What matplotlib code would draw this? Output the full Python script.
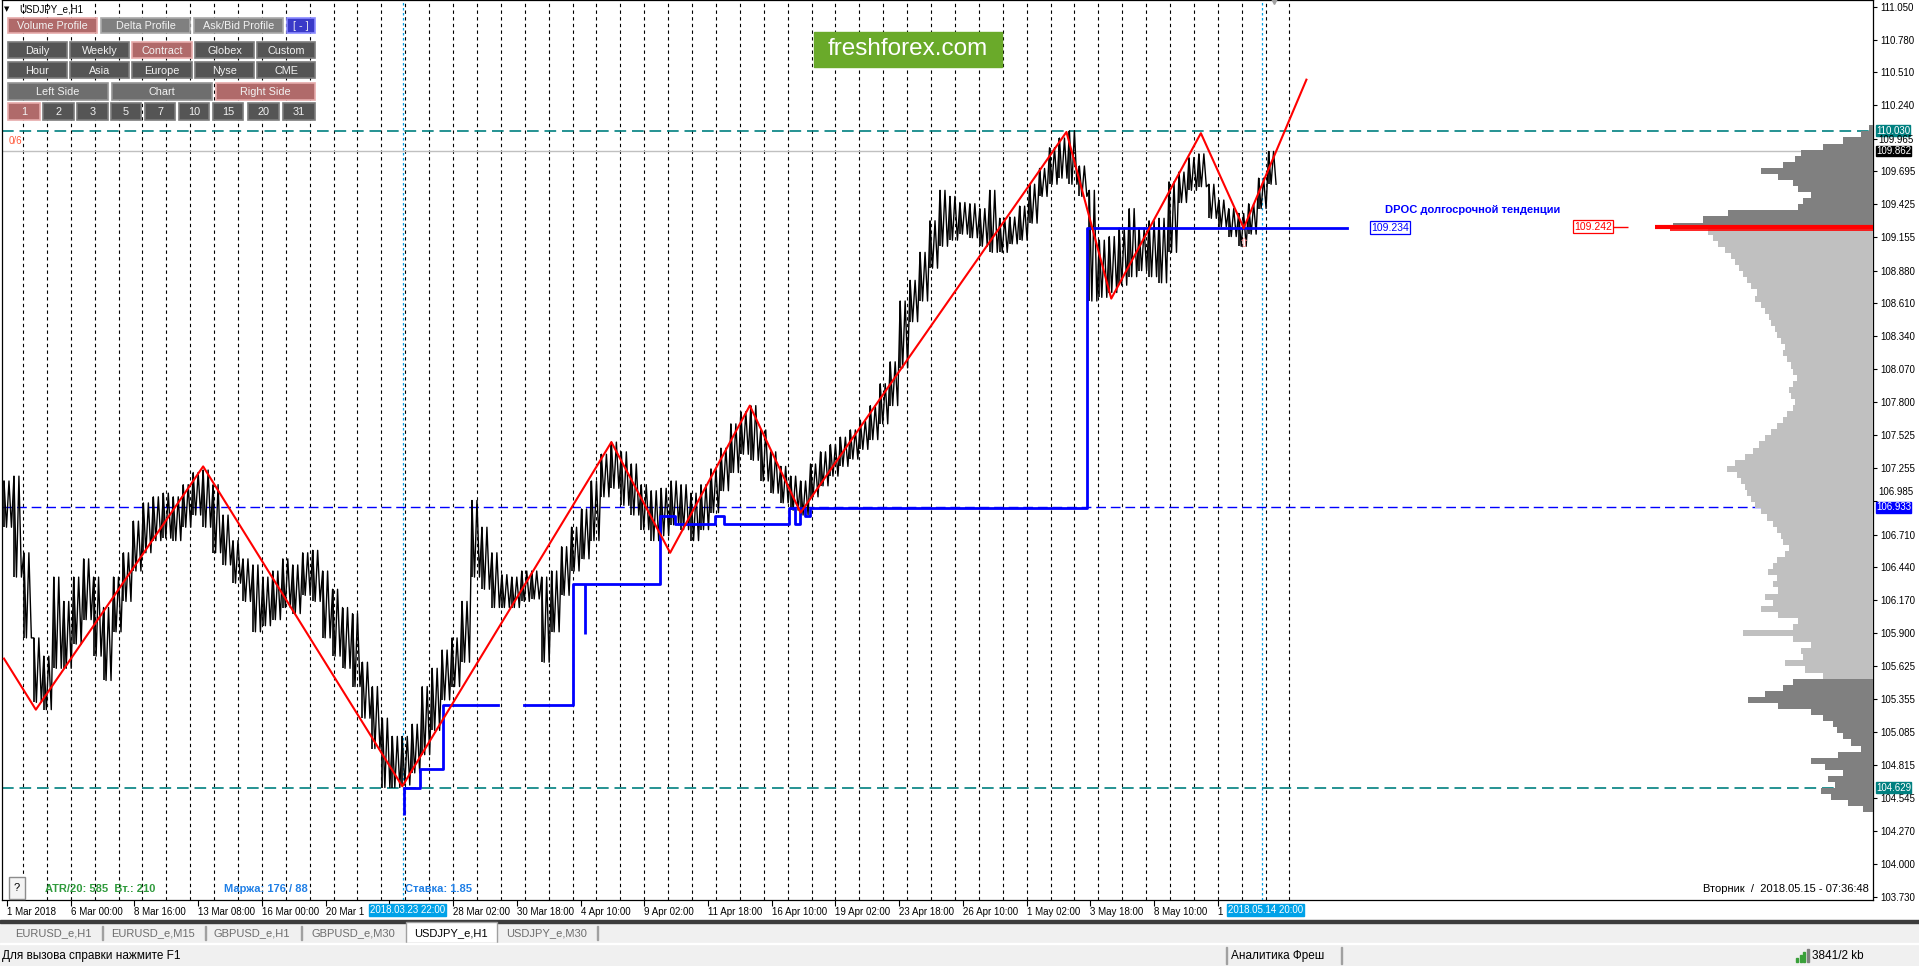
import numpy as np
import matplotlib
matplotlib.use('Agg')
import matplotlib.pyplot as plt
from matplotlib.patches import Rectangle

plt.rcParams['font.family'] = ['Liberation Sans', 'DejaVu Sans']

W, H = 1919, 966

# x axis = hourly bar number counted from 1 Mar 2018 00:00 (weekends skipped)
bar_first, bar_step = 5, 10
price_hi = [
    107.15, 107.19, 106.56, 105.86, 105.71, 106.36, 106.16, 106.36, 106.51, 106.36,
    106.11, 106.36, 106.56, 106.82, 106.97, 107.02, 107.05, 107.02, 107.12, 107.22,
    107.24, 107.12, 106.87, 106.66, 106.51, 106.46, 106.36, 106.41, 106.51, 106.46,
    106.56, 106.58, 106.41, 106.26, 106.11, 106.06, 105.66, 105.46, 105.20, 105.05,
    105.05, 105.15, 105.46, 105.61, 105.76, 105.86, 106.16, 106.99, 106.77, 106.56,
    106.38, 106.36, 106.41, 106.41, 106.36, 106.41, 106.61, 106.77, 106.92, 107.15,
    107.37, 107.47, 107.39, 107.29, 107.12, 107.07, 107.09, 107.15, 107.12, 107.05,
    107.12, 107.25, 107.42, 107.62, 107.72, 107.77, 107.57, 107.39, 107.27, 107.19,
    107.15, 107.29, 107.39, 107.45, 107.51, 107.57, 107.65, 107.77, 107.95, 108.13,
    108.63, 108.80, 109.03, 109.29, 109.54, 109.49, 109.44, 109.43, 109.39, 109.54,
    109.31, 109.32, 109.41, 109.59, 109.72, 109.89, 109.97, 110.03, 109.74, 109.54,
    109.13, 109.16, 109.23, 109.39, 109.23, 109.29, 109.31, 109.61, 109.69, 109.81,
    109.84, 109.59, 109.46, 109.39, 109.35, 109.43, 109.64, 109.86]
price_lo = [
    106.77, 106.36, 105.86, 105.33, 105.27, 105.61, 105.61, 105.81, 106.01, 105.71,
    105.51, 105.91, 106.16, 106.41, 106.56, 106.66, 106.68, 106.66, 106.77, 106.87,
    106.77, 106.56, 106.46, 106.31, 106.16, 105.91, 105.96, 106.01, 106.11, 106.06,
    106.21, 106.16, 105.86, 105.71, 105.61, 105.46, 105.20, 104.95, 104.63, 104.63,
    104.65, 104.75, 104.90, 105.10, 105.35, 105.46, 105.66, 106.36, 106.26, 106.11,
    106.11, 106.11, 106.16, 106.18, 105.66, 105.91, 106.21, 106.41, 106.51, 106.66,
    107.02, 107.09, 106.95, 106.87, 106.75, 106.66, 106.70, 106.79, 106.75, 106.66,
    106.75, 106.89, 107.07, 107.22, 107.37, 107.32, 107.15, 107.05, 106.97, 106.91,
    106.87, 107.02, 107.11, 107.19, 107.27, 107.33, 107.41, 107.49, 107.62, 107.77,
    108.08, 108.46, 108.63, 108.90, 109.08, 109.13, 109.18, 109.15, 109.08, 109.03,
    109.03, 109.10, 109.13, 109.27, 109.49, 109.59, 109.64, 109.59, 109.49, 108.63,
    108.66, 108.70, 108.76, 108.83, 108.88, 108.83, 108.78, 109.03, 109.44, 109.54,
    109.57, 109.31, 109.24, 109.16, 109.08, 109.18, 109.39, 109.59]

# zigzag (red)
zz_bar = [5, 37, 205, 405, 615, 674, 754, 805, 1072, 1117, 1207, 1250, 1313]
zz_price = [105.69, 105.27, 107.27, 104.64, 107.47, 106.56, 107.77, 106.89,
            110.02, 108.65, 110.01, 109.23, 110.45]

# developing POC (blue steps)
poc_bar = [407, 423, 446, 501, 527, 576, 664, 679, 719, 728, 793, 799, 804,
           809, 814, 1093, 1354]
poc_price = [104.63, 104.78, 105.31, np.nan, 105.31, 106.30, 106.86, 106.80,
             106.86, 106.80, 106.93, 106.80, 106.93, 106.86, 106.93, 109.23, 109.23]
spike_bar = [407, 588]
spike_lo = [104.40, 105.89]
spike_hi = [104.63, 106.30]

# volume profile, levels from 104.45 every 0.05
prof_start, prof_step = 104.45, 0.05
prof_vol = [
    10, 25, 42, 52, 38, 45, 30, 48, 62, 35, 12,
    22, 30, 36, 40, 50, 62, 95, 125, 108, 90, 80, 50, 68, 88, 70, 72, 62, 80, 130, 80,
    75, 95, 112, 100, 108, 95, 100, 96, 105, 100, 96, 88, 84, 90, 92, 96, 100, 106, 112, 118,
    122, 126, 128, 132, 136, 146, 138, 128, 120, 114, 108, 102, 96, 90, 86, 80, 78, 82, 84, 80,
    76, 80, 82, 86, 90, 88, 92, 96, 98, 102, 104, 108, 112, 118, 116, 122, 126, 130, 134, 138,
    142, 148, 155, 160, 165, 200, 170, 145, 75, 70, 62, 75, 80, 95, 112, 90, 78, 72, 50, 30,
    12, 4]
va_low, va_high = 105.52, 109.23
poc_main, poc_prev = 109.242, 109.215
poc_main_vol, poc_prev_vol = 218, 203
dpoc_long = 109.234

lvl_high, lvl_low, lvl_bid, lvl_blue = 110.030, 104.629, 109.862, 106.933

y_ticks = [111.050, 110.780, 110.510, 110.240, 109.965, 109.695, 109.425, 109.155,
           108.880, 108.610, 108.340, 108.070, 107.800, 107.525, 107.255, 106.985,
           106.710, 106.440, 106.170, 105.900, 105.625, 105.355, 105.085, 104.815,
           104.545, 104.270, 104.000, 103.730]
# tick labels squeezed next to the coloured price tags: (price, vertical shift px)
y_tight = {109.965: -1, 106.985: 9}
# only the visible part of the labels that sit under the crosshair boxes
time_labels = ['1 Mar 2018', '6 Mar 00:00', '8 Mar 16:00', '13 Mar 08:00', '16 Mar 00:00',
               '20 Mar 1', '', '28 Mar 02:00', '30 Mar 18:00', '4 Apr 10:00',
               '9 Apr 02:00', '11 Apr 18:00', '16 Apr 10:00', '19 Apr 02:00', '23 Apr 18:00',
               '26 Apr 10:00', '1 May 02:00', '3 May 18:00', '8 May 10:00', '1']
cross_bars = [406, 1268]
cross_labels = ['2018.03.23 22:00', '2018.05.14 20:00']

fig = plt.figure(figsize=(W / 100, H / 100), dpi=100)
fig.patch.set_facecolor('white')


def box(x0, y0, x1, y1, fc, ec=None, lw=1.0, z=5):
    r = Rectangle((x0 / W, 1 - y1 / H), (x1 - x0) / W, (y1 - y0) / H,
                  transform=fig.transFigure, fc=fc, ec=ec or fc, lw=lw, zorder=z)
    fig.add_artist(r)


def ftext(x, y, s, **kw):
    kw.setdefault('va', 'center')
    kw.setdefault('zorder', 6)
    fig.text(x / W, 1 - y / H, s, **kw)


ax = fig.add_axes([2 / W, 1 - 900 / H, 1871 / W, 900 / H])
ax.set_xlim(3, 1882)
ax.set_ylim(103.705, 111.105)

# day separators
for d in range(24, 1300, 24):
    ax.axvline(d, color='black', lw=0.8, ls=(0, (3, 3)), zorder=1)
for b in cross_bars:
    ax.axvline(b, color='#00a2e8', lw=0.9, ls=(0, (2, 2)), zorder=1)

ax.axhline(lvl_high, color='#008080', lw=1.2, ls=(0, (7, 3.5)), zorder=1)
ax.axhline(lvl_low, color='#008080', lw=1.2, ls=(0, (7, 3.5)), zorder=1)
ax.axhline(lvl_blue, color='#0000ff', lw=1.0, ls=(0, (7, 3.5)), zorder=1)
ax.axhline(lvl_bid, color='#c0c0c0', lw=1.0, zorder=1)

# price bars: each read high/low range drawn as a dense up-down trace
bars = bar_first + bar_step * np.arange(len(price_hi))
q = bar_step / 4
px = np.column_stack([bars, bars + q, bars + 2 * q, bars + 3 * q]).ravel()
py = np.column_stack([price_hi, price_lo, price_hi, price_lo]).ravel()
ax.plot(px, py, color='black', lw=1.0, zorder=3)
ax.vlines(bars, price_lo, price_hi, color='black', lw=1.2, zorder=3)

ax.plot(poc_bar, poc_price, drawstyle='steps-post', color='#0000ff', lw=2.0, zorder=4)
ax.vlines(spike_bar, spike_lo, spike_hi, color='#0000ff', lw=2.0, zorder=4)
ax.plot(zz_bar, zz_price, color='red', lw=1.5, zorder=5)

ax.text(zz_bar[-2], zz_price[-2] - 0.13, '\u21e7', color='#ff8a8a', fontsize=9,
        ha='center', va='center', family=['DejaVu Sans'], zorder=5)

# DPOC labels
ax.text(1392, 109.375, 'DPOC долгосрочной тенденции', color='#0000ff', fontsize=8,
        fontweight='bold', ha='left', va='center')
ax.text(1397, dpoc_long, f'{dpoc_long:.3f}', color='#0000ff', fontsize=7.5, ha='center',
        va='center', bbox=dict(boxstyle='square,pad=0.12', fc='white', ec='#0000ff', lw=0.9))
ax.text(1601, poc_main, f'{poc_main:.3f}', color='red', fontsize=7.5, ha='center',
        va='center', bbox=dict(boxstyle='square,pad=0.12', fc='white', ec='red', lw=0.9))
ax.hlines(poc_main, 1620, 1636, color='red', lw=1.0)
ax.text(1870, 109.93, '1', color='#ff6347', fontsize=7, ha='center', va='center')
ax.plot([bars[-1] + bar_step / 2], [111.105], marker='v', color='#a0a0a0', ms=6,
        clip_on=False, zorder=6)

# axes styling
for s in ax.spines.values():
    s.set_color('black')
    s.set_linewidth(0.9)
ax.yaxis.tick_right()
ax.set_yticks(y_ticks)
ax.set_yticklabels(['' if v in y_tight else f'{v:.3f}' for v in y_ticks])
ax.tick_params(axis='y', direction='out', length=3, labelsize=7, pad=2, width=0.8)
xt = [8 + 64 * k for k in range(len(time_labels))]
ax.set_xticks(xt)
ax.set_xticklabels(time_labels, ha='left')
ax.tick_params(axis='x', direction='out', length=4, labelsize=7, pad=1, width=0.8)

for v, dy in y_tight.items():
    ax.annotate(f'{v:.3f}', xy=(1, v), xycoords=('axes fraction', 'data'),
                xytext=(5, dy), textcoords='offset pixels', ha='left', va='center',
                fontsize=7, color='black', annotation_clip=False, zorder=11)


def price_tag(p, fc):
    ax.annotate(f'{p:.3f}', xy=(1, p), xycoords=('axes fraction', 'data'), xytext=(3, 0),
                textcoords='offset pixels', ha='left', va='center', fontsize=7, color='white',
                bbox=dict(boxstyle='square,pad=0.03', fc=fc, ec=fc), annotation_clip=False,
                zorder=10)


price_tag(lvl_high, '#008080')
price_tag(lvl_bid, '#000000')
price_tag(lvl_blue, '#0000ff')
price_tag(lvl_low, '#008080')

for b, s in zip(cross_bars, cross_labels):
    ax.annotate(s, xy=(b, 0), xycoords=('data', 'axes fraction'), xytext=(4, -10),
                textcoords='offset pixels', ha='center', va='center', fontsize=7,
                color='white', bbox=dict(boxstyle='square,pad=0.12', fc='#00a2e8', ec='#00a2e8'),
                annotation_clip=False, zorder=10)

# volume profile on its own axes (x = volume, growing to the left)
axp = fig.add_axes([1650 / W, 1 - 900 / H, 223 / W, 900 / H])
axp.set_ylim(ax.get_ylim())
axp.set_xlim(223, 0)
levels = prof_start + prof_step * np.arange(len(prof_vol))
cols = ['#808080' if (lv < va_low or lv > va_high) else '#c0c0c0' for lv in levels]
axp.barh(levels, prof_vol, height=prof_step, color=cols, lw=0, align='center')
axp.hlines(poc_main, 0, poc_main_vol, color='red', lw=3.0)
axp.hlines(poc_prev, 0, poc_prev_vol, color='red', lw=1.2)
axp.axis('off')
axp.patch.set_alpha(0)

# control panel buttons
styles = {'on': ('#b06a6a', '#e6aaaa'), 'mid': ('#808080', '#a9a9a9'),
          'dark': ('#555555', '#7c7c7c'), 'gray': ('#6e6e6e', '#949494'),
          'blue': ('#3a3ac8', '#8a8aff')}
buttons = [
    ('Volume Profile', 8, 18, 97, 33, 'on'), ('Delta Profile', 101, 18, 190, 33, 'mid'),
    ('Ask/Bid Profile', 194, 18, 283, 33, 'mid'), ('[ - ]', 287, 18, 315, 33, 'blue'),
    ('Daily', 8, 42, 67, 58, 'dark'), ('Weekly', 70, 42, 129, 58, 'dark'),
    ('Contract', 132, 42, 192, 58, 'on'), ('Globex', 195, 42, 254, 58, 'dark'),
    ('Custom', 257, 42, 315, 58, 'dark'),
    ('Hour', 8, 62, 67, 78, 'dark'), ('Asia', 70, 62, 129, 78, 'dark'),
    ('Europe', 132, 62, 192, 78, 'dark'), ('Nyse', 195, 62, 254, 78, 'dark'),
    ('CME', 257, 62, 315, 78, 'dark'),
    ('Left Side', 8, 83, 108, 100, 'gray'), ('Chart', 112, 83, 212, 100, 'gray'),
    ('Right Side', 216, 83, 315, 100, 'on'),
    ('1', 8, 103, 40, 120, 'on'), ('2', 43, 103, 74, 120, 'dark'), ('3', 77, 103, 108, 120, 'dark'),
    ('5', 111, 103, 141, 120, 'dark'), ('7', 145, 103, 175, 120, 'dark'),
    ('10', 179, 103, 209, 120, 'dark'), ('15', 213, 103, 243, 120, 'dark'),
    ('20', 248, 103, 279, 120, 'dark'), ('31', 283, 103, 315, 120, 'dark'),
]
for label, x0, y0, x1, y1, kind in buttons:
    fc, ec = styles[kind]
    box(x0, y0, x1, y1, fc, ec, lw=1.2)
    ftext((x0 + x1) / 2, (y0 + y1) / 2 + 0.5, label, ha='center', fontsize=7.8, color='#f2f2f2')

ftext(4, 9, '\u25bc', fontsize=5, color='black', family=['DejaVu Sans'])
ftext(19, 9, 'USDJPY_e,H1', fontsize=7, color='black')
ftext(9, 141, '0/6', fontsize=7, color='#ff5a3c')

# logo
box(814, 32, 1002, 67, '#6aaa2a')
ftext(908, 49, 'freshforex.com', ha='center', fontsize=17.5, color='white')

# bottom info line
box(9, 877, 25, 899, '#f4f4f4', '#8c8c8c')
ftext(17, 888, '?', ha='center', fontsize=8, color='black')
ftext(45, 889, 'ATR/20: 585  Вт.: 210', fontsize=8, fontweight='bold', color='#2f9a3c')
ftext(224, 889, 'Маржа: 176 / 88', fontsize=8, fontweight='bold', color='#1f7fe6')
ftext(405, 889, 'Ставка: 1.85', fontsize=8, fontweight='bold', color='#1f7fe6')
ftext(1869, 889, 'Вторник  /  2018.05.15 - 07:36:48', ha='right', fontsize=8, color='black')

# tab bar and status bar
box(0, 921, W, 943, '#f0f0f0', z=4)
box(0, 920, W, 922.5, '#3c3c3c', z=4)
box(406, 922, 497, 943, 'white', '#a0a0a0', z=5)
tabs = [('EURUSD_e,H1', 53), ('EURUSD_e,M15', 153), ('GBPUSD_e,H1', 252),
        ('GBPUSD_e,M30', 353), ('USDJPY_e,H1', 451), ('USDJPY_e,M30', 547)]
for name, cx in tabs:
    ftext(cx, 933, name, ha='center', fontsize=8,
          color='black' if name == 'USDJPY_e,H1' else '#6d6d6d')
for sx in [102, 205, 301, 597]:
    box(sx, 926, sx + 1, 940, '#a0a0a0', z=5)
box(0, 943, W, H, '#f0f0f0', z=4)
box(0, 943, W, 944, 'white', z=5)
ftext(2, 956, 'Для вызова справки нажмите F1', fontsize=8.5, color='black')
box(1226, 947, 1227, 964, '#a0a0a0', z=5)
box(1341, 947, 1342, 964, '#a0a0a0', z=5)
ftext(1231, 956, 'Аналитика Фреш', fontsize=8.5, color='black')
for i, hgt in enumerate([4, 7, 10, 13]):
    box(1796 + i * 3.5, 962 - hgt, 1798 + i * 3.5, 962, '#3aa03a' if i < 3 else '#808080', z=5)
ftext(1812, 956, '3841/2 kb', fontsize=8.5, color='black')

fig.savefig('out.png', dpi=100, facecolor='white')
